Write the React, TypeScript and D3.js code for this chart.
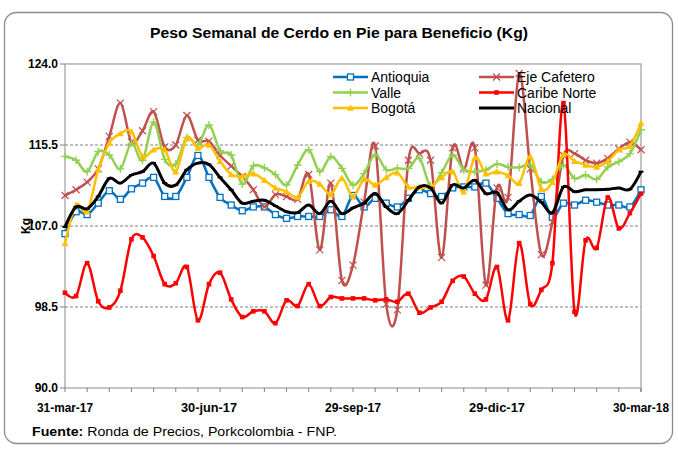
import React from 'react';
import * as d3 from 'd3';

// weekly weights (kg), 31-mar-17 .. 30-mar-18
const antioquia = [106.2, 108.5, 108.2, 109.4, 110.7, 109.8, 110.9, 111.5, 112.1, 110.1, 110.1, 112.1, 114.4, 112.1, 110.0, 109.2, 108.6, 109.0, 109.0, 108.2, 107.8, 108.0, 108.0, 108.0, 108.7, 108.0, 110.2, 109.0, 109.9, 109.4, 109.0, 109.9, 110.8, 110.4, 110.1, 111.0, 111.1, 111.1, 111.5, 109.9, 108.3, 108.2, 108.1, 110.1, 107.9, 109.4, 109.2, 109.7, 109.5, 109.2, 109.2, 109.0, 110.8];
const ejeCafetero = [110.2, 110.8, 111.6, 113.0, 116.4, 119.9, 115.8, 117.0, 119.0, 115.3, 115.5, 118.6, 116.0, 115.9, 114.4, 113.3, 112.2, 110.8, 109.0, 110.3, 110.1, 109.8, 112.4, 104.5, 111.5, 101.3, 102.9, 109.5, 115.4, 98.8, 98.2, 113.9, 114.6, 113.9, 103.7, 115.2, 113.0, 115.2, 100.8, 111.0, 110.0, 123.0, 113.0, 104.0, 107.4, 114.4, 114.6, 113.9, 113.6, 114.1, 115.1, 115.8, 115.0];
const valle = [114.3, 113.9, 112.7, 114.8, 114.45, 113.0, 115.7, 113.9, 117.9, 114.0, 113.5, 116.3, 115.5, 117.6, 114.9, 114.45, 111.4, 113.3, 113.1, 112.4, 111.3, 113.4, 115.0, 112.7, 114.3, 113.05, 111.3, 112.5, 114.5, 112.9, 113.05, 113.05, 114.1, 111.2, 112.6, 114.45, 112.9, 112.7, 112.9, 113.5, 113.2, 113.15, 113.4, 111.65, 111.9, 113.4, 112.0, 112.35, 111.9, 113.2, 113.75, 114.6, 117.1];
const caribeNorte = [100.0, 99.65, 103.1, 99.1, 98.45, 100.2, 105.6, 105.8, 103.85, 100.9, 101.0, 102.7, 97.1, 100.9, 102.1, 99.3, 97.45, 98.05, 98.05, 96.8, 99.2, 98.6, 100.9, 98.6, 99.55, 99.4, 99.4, 99.4, 99.2, 99.3, 99.05, 99.9, 97.9, 98.45, 99.05, 101.25, 101.7, 99.9, 99.3, 102.7, 97.1, 105.2, 98.8, 100.3, 103.1, 119.9, 98.0, 105.5, 104.7, 110.0, 106.75, 108.35, 110.4];
const bogota = [105.2, 109.2, 108.5, 112.9, 115.7, 116.7, 116.9, 114.3, 115.0, 115.0, 112.7, 116.2, 115.2, 115.5, 113.8, 112.4, 112.2, 112.5, 111.8, 111.0, 110.6, 110.0, 111.7, 111.4, 110.3, 112.0, 110.1, 111.9, 111.3, 112.1, 112.6, 111.1, 111.1, 111.1, 112.1, 112.7, 110.6, 114.2, 112.5, 112.7, 112.3, 111.5, 114.3, 110.9, 111.6, 114.5, 113.8, 113.4, 113.2, 113.8, 115.0, 115.4, 117.8];
const nacional = [106.9, 109.0, 108.8, 110.1, 112.0, 111.5, 112.35, 112.7, 113.6, 111.5, 111.3, 112.9, 113.6, 113.45, 112.1, 110.8, 109.4, 109.6, 109.7, 109.1, 108.5, 108.4, 109.2, 108.3, 109.6, 108.3, 108.9, 109.4, 110.4, 109.0, 108.3, 109.7, 111.1, 111.0, 109.4, 111.3, 111.0, 111.8, 110.4, 110.5, 108.7, 109.6, 110.25, 109.5, 108.4, 111.1, 110.6, 110.8, 110.8, 110.85, 111.0, 110.85, 112.7];

const yTicks = [90, 98.5, 107, 115.5, 124];
const meses = ['ene', 'feb', 'mar', 'abr', 'may', 'jun', 'jul', 'ago', 'sep', 'oct', 'nov', 'dic'];

const start = new Date(Date.UTC(2017, 2, 31));
const fechas = antioquia.map((_, i) => d3.utcDay.offset(start, 7 * i));
const labelDates = [0, 91, 182, 273, 364].map(d => d3.utcDay.offset(start, d));
const minorTicks = d3.range(0, 365, 14).map(d => d3.utcDay.offset(start, d));

const fmt = (d: Date) => `${d.getUTCDate()}-${meses[d.getUTCMonth()]}-${String(d.getUTCFullYear()).slice(2)}`;

const series = [
  { name: 'Antioquia', data: antioquia, color: '#0070C0', marker: 'square', width: 2.5 },
  { name: 'Eje Cafetero', data: ejeCafetero, color: '#C0504D', marker: 'x', width: 2.5 },
  { name: 'Valle', data: valle, color: '#92D050', marker: 'plus', width: 2.5 },
  { name: 'Caribe Norte', data: caribeNorte, color: '#FF0000', marker: 'dot', width: 2.5 },
  { name: 'Bogotá', data: bogota, color: '#FFC000', marker: 'tri', width: 2.5 },
  { name: 'Nacional', data: nacional, color: '#000000', marker: 'dash', width: 3 },
];

const L = 65, R = 641, T = 64, B = 388;
const FONT = "'Liberation Sans Narrow', 'Liberation Sans', Arial, sans-serif";

function Marker({ type, x, y, color }: { type: string; x: number; y: number; color: string }) {
  if (type === 'square') return <rect x={x - 3} y={y - 3} width={6} height={6} fill="#fff" stroke={color} strokeWidth={1.3} />;
  if (type === 'x') return <path d={`M${x - 3.5},${y - 3.5}L${x + 3.5},${y + 3.5}M${x - 3.5},${y + 3.5}L${x + 3.5},${y - 3.5}`} stroke={color} strokeWidth={1.2} />;
  if (type === 'plus') return <path d={`M${x - 4},${y}L${x + 4},${y}M${x},${y - 4}L${x},${y + 4}`} stroke={color} strokeWidth={1.3} />;
  if (type === 'dot') return <rect x={x - 2.3} y={y - 2.3} width={4.6} height={4.6} fill={color} />;
  if (type === 'tri') return <path d={`M${x},${y - 3.5}L${x + 3.5},${y + 2.8}L${x - 3.5},${y + 2.8}Z`} fill={color} />;
  return <rect x={x - 2.5} y={y - 1} width={5} height={2} fill={color} />;
}

export default function App() {
  const x = d3.scaleUtc().domain([fechas[0], fechas[fechas.length - 1]]).range([L, R]);
  const y = d3.scaleLinear().domain([90, 124]).range([B, T]);
  const line = d3.line<number>()
    .x((_, i) => x(fechas[i]))
    .y(d => y(d))
    .curve(d3.curveCardinal.tension(0));

  const legendRows = [
    [series[0], series[1]],
    [series[2], series[3]],
    [series[4], series[5]],
  ];

  return (
    <svg width={678} height={451} style={{ position: 'absolute', left: 0, top: 0, background: '#fff' }}>
      <rect x={4.5} y={12.5} width={668} height={431} rx={12} fill="#fff" stroke="#8c8c8c" strokeWidth={1.3} />
      <text x={339} y={38} textAnchor="middle" fontFamily={FONT} fontWeight="bold" fontSize={14.5}
        textLength={378} lengthAdjust="spacingAndGlyphs">Peso Semanal de Cerdo en Pie para Beneficio (Kg)</text>

      {/* grid */}
      {yTicks.filter(v => v > 90 && v < 124).map(v => (
        <line key={v} x1={L} x2={R} y1={y(v)} y2={y(v)} stroke="#808080" strokeDasharray="3,2" strokeWidth={1} />
      ))}
      <rect x={L} y={T} width={R - L} height={B - T} fill="none" stroke="#a6a6a6" strokeWidth={1.3} />

      {/* y axis */}
      {yTicks.map(v => (
        <g key={v}>
          <line x1={L - 5} x2={L} y1={y(v)} y2={y(v)} stroke="#808080" />
          <text x={L - 7} y={y(v) + 4} textAnchor="end" fontFamily={FONT} fontWeight="bold" fontSize={12}>{v.toFixed(1)}</text>
        </g>
      ))}
      <text transform={`translate(30,${(T + B) / 2}) rotate(-90)`} textAnchor="middle" fontFamily={FONT} fontWeight="bold" fontSize={12}>Kg</text>

      {/* x axis */}
      {minorTicks.map((d, i) => (
        <line key={i} x1={x(d)} x2={x(d)} y1={B} y2={B + 4} stroke="#808080" />
      ))}
      <line x1={R} x2={R} y1={B} y2={B + 4} stroke="#808080" />
      {labelDates.map((d, i) => (
        <text key={i} x={x(d)} y={412} textAnchor="middle" fontFamily={FONT} fontWeight="bold" fontSize={12}
          textLength={56} lengthAdjust="spacingAndGlyphs">{fmt(d)}</text>
      ))}

      {/* series */}
      {series.map(s => (
        <g key={s.name}>
          <path d={line(s.data) || ''} fill="none" stroke={s.color} strokeWidth={s.width} strokeLinejoin="round" />
          {s.data.map((v, i) => (
            <Marker key={i} type={s.marker} x={x(fechas[i])} y={y(v)} color={s.color} />
          ))}
        </g>
      ))}

      {/* legend */}
      {legendRows.map((row, r) => row.map((s, c) => {
        const lx = c === 0 ? 333 : 479;
        const ly = 77 + r * 15.5;
        return (
          <g key={s.name}>
            <line x1={lx} x2={lx + 35} y1={ly} y2={ly} stroke={s.color} strokeWidth={s.width} />
            <Marker type={s.marker} x={lx + 17.5} y={ly} color={s.color} />
            <text x={lx + 38} y={ly + 5} fontFamily="'Liberation Sans', Arial, sans-serif" fontSize={14}>{s.name}</text>
          </g>
        );
      }))}

      <text x={32} y={436} fontFamily={FONT} fontSize={12} textLength={305} lengthAdjust="spacingAndGlyphs">
        <tspan fontWeight="bold">Fuente:</tspan> Ronda de Precios, Porkcolombia  - FNP.
      </text>
    </svg>
  );
}
